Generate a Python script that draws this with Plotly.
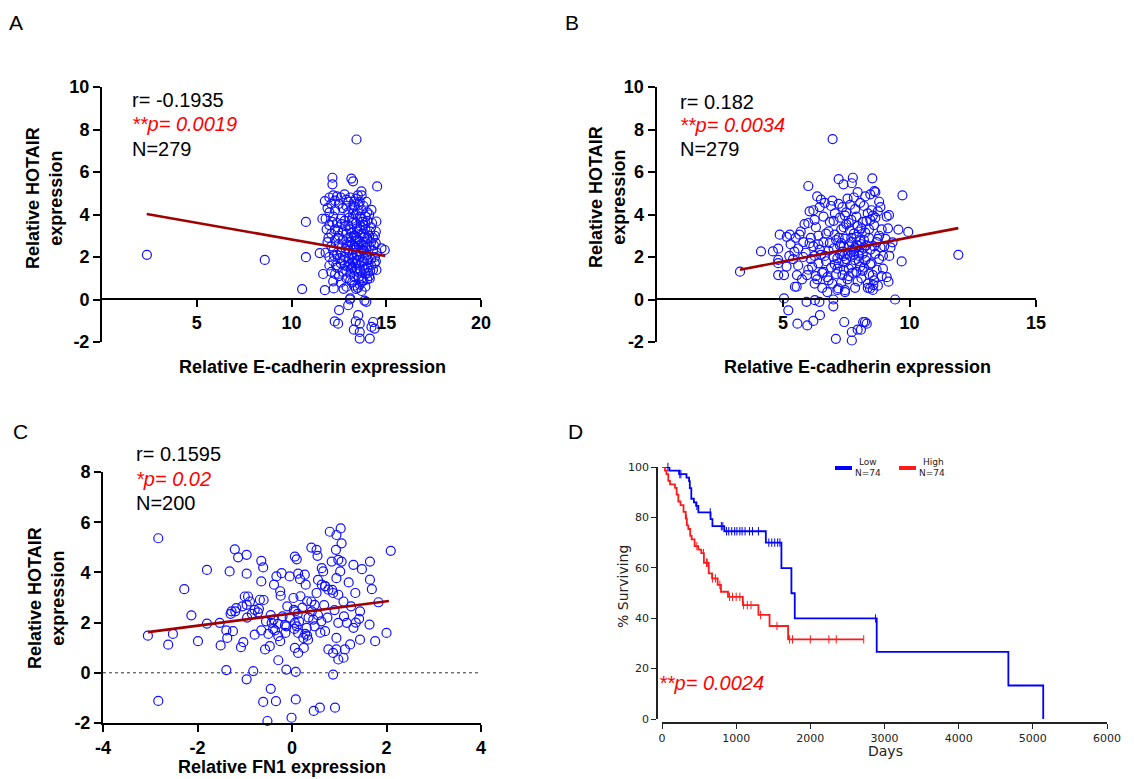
import plotly.graph_objects as go

W, H = 1134, 779

# ---------------- Panel A data (E-cadherin vs HOTAIR) ----------------
a_points = [
    (2.37, 2.10), (8.59, 1.86), (10.56, 0.49), (10.76, 3.65), (10.76, 1.99), (11.49, 2.18),
    (11.76, 0.44), (11.67, 1.20), (11.63, 3.80), (11.76, 4.63), (12.16, 5.73), (12.16, 5.42),
    (12.23, 0.52), (12.28, -1.03), (12.46, -1.14), (12.51, -0.50), (12.99, -0.27), (13.08, 0.0),
    (13.16, 5.69), (13.25, 5.56), (13.43, 7.53), (13.29, -1.42), (13.39, -1.03), (13.52, -0.74),
    (13.60, -1.14), (13.60, -1.53), (13.60, -1.84), (13.69, 5.09), (13.95, -0.11), (14.13, -1.84),
    (14.22, -1.29), (14.31, -1.06), (14.39, -1.37), (14.52, 5.32), (14.48, 3.67), (14.22, 4.22),
    (14.45, 3.20), (14.45, 2.65), (14.92, 2.33), (14.75, 2.41), (14.48, 1.39), (14.39, 1.70),
    (14.13, 0.99), (13.85, -0.05), (13.1, 0.05),
    (12.0, 4.8), (12.2, 4.9), (12.4, 4.85), (12.6, 4.8), (12.9, 4.7), (13.1, 4.8), (13.3, 4.6),
    (13.5, 4.9), (13.6, 4.6), (13.8, 4.4), (11.9, 4.3), (12.1, 4.5), (12.3, 4.2), (12.5, 4.5),
    (12.7, 4.3), (12.9, 4.4), (13.0, 4.1), (13.2, 4.3), (13.4, 4.0), (13.7, 4.2), (11.8, 3.8),
    (12.0, 3.5), (12.2, 3.9), (12.4, 3.6), (12.6, 3.8), (12.8, 3.7), (13.0, 3.5), (13.2, 3.8),
    (13.4, 3.6), (13.6, 3.9), (13.8, 3.5), (14.0, 3.7), (14.2, 3.4), (12.1, 3.1), (12.3, 3.3),
    (12.5, 3.0), (12.7, 3.2), (12.9, 3.1), (13.1, 3.3), (13.3, 3.0), (13.5, 3.2), (13.7, 3.1),
    (13.9, 3.3), (14.1, 3.0), (14.3, 2.9), (11.9, 2.7), (12.1, 2.5), (12.3, 2.8), (12.5, 2.6),
    (12.7, 2.8), (12.9, 2.6), (13.1, 2.7), (13.3, 2.5), (13.5, 2.8), (13.7, 2.6), (13.9, 2.7),
    (14.1, 2.5), (14.3, 2.3), (11.8, 2.2), (12.0, 2.0), (12.2, 2.3), (12.4, 2.1), (12.6, 2.2),
    (12.8, 2.0), (13.0, 2.3), (13.2, 2.1), (13.4, 2.2), (13.6, 2.0), (13.8, 2.3), (14.0, 2.1),
    (14.2, 1.9), (14.4, 2.0), (12.0, 1.6), (12.2, 1.8), (12.4, 1.5), (12.6, 1.7), (12.8, 1.6),
    (13.0, 1.8), (13.2, 1.5), (13.4, 1.7), (13.6, 1.6), (13.8, 1.8), (14.0, 1.5), (14.2, 1.6),
    (12.3, 1.2), (12.5, 1.1), (12.7, 1.3), (12.9, 1.0), (13.1, 1.2), (13.3, 1.1), (13.5, 1.3),
    (13.7, 1.0), (13.9, 1.2), (14.1, 1.1), (12.6, 0.8), (12.9, 0.6), (13.2, 0.8), (13.4, 0.5),
    (13.6, 0.7), (13.8, 0.9), (13.0, 4.6), (13.3, 4.4), (13.5, 4.2), (13.7, 3.8), (13.9, 3.9),
    (14.0, 4.1), (13.2, 3.6), (13.45, 3.35), (13.65, 3.45), (13.85, 2.95), (13.15, 2.95),
    (13.35, 2.75), (13.55, 2.55), (13.75, 2.35), (13.95, 2.45), (13.25, 2.35), (13.45, 2.05),
    (13.65, 2.25), (13.85, 1.95), (14.05, 1.85), (13.05, 1.95), (13.25, 1.75), (13.45, 1.45),
    (13.65, 1.35), (13.85, 1.45), (14.05, 1.25), (13.15, 1.45), (13.35, 1.35), (13.55, 1.05),
    (13.75, 0.85), (13.6, 3.3), (13.8, 3.1), (14.0, 2.9), (13.4, 2.9), (13.2, 2.6), (13.0, 2.9),
    (12.85, 2.4), (12.65, 2.45), (12.45, 2.9), (12.25, 2.05), (14.2, 2.7), (14.35, 2.55),
    (14.45, 1.8), (14.3, 1.4), (14.15, 1.35), (14.5, 2.2), (14.4, 3.0), (14.25, 3.6), (14.1, 4.0),
    (13.95, 4.6), (13.7, 4.9), (13.4, 4.75), (12.8, 4.95), (12.3, 4.65), (12.0, 4.1), (11.85, 3.3),
    (11.95, 2.9), (12.1, 1.3), (12.35, 1.6), (12.55, 1.95), (12.75, 1.85), (12.95, 1.55),
    (13.1, 0.9), (13.3, 0.65), (13.5, 0.55), (13.7, 0.4), (13.9, 0.6), (14.0, 0.95), (12.2, 0.85),
    (12.75, 0.5), (13.55, 4.45), (13.25, 4.05), (13.05, 3.85), (12.85, 3.45), (12.65, 3.55),
    (12.45, 3.25), (12.15, 3.65), (13.75, 3.65), (13.9, 3.6), (14.15, 3.2), (13.3, 1.95),
    (13.5, 1.85), (13.7, 1.75), (13.1, 1.65), (12.9, 1.35), (13.4, 2.45), (13.6, 2.75),
    (13.8, 2.55), (13.0, 2.55), (13.2, 3.15),
]
a_fit_x = [2.36, 14.95]
a_fit_y = [4.02, 2.05]

# ---------------- Panel B data ----------------
b_points = [
    (3.30, 1.31), (4.13, 2.26), (4.60, 2.26), (4.81, 2.39), (4.81, 1.86), (4.81, 1.71),
    (4.81, 1.15), (5.04, 1.15), (5.14, 1.55), (5.04, 0.05), (5.21, -0.51), (5.47, 0.60),
    (5.57, -1.14), (5.93, -0.11), (5.96, -1.22), (6.20, -1.01), (6.26, -0.03), (6.46, -0.74),
    (6.44, -0.11), (6.99, 0.0), (6.99, -0.32), (7.09, -1.85), (7.42, -1.06), (6.96, 7.55),
    (7.20, 5.66), (7.39, 5.42), (7.76, 5.73), (7.72, 5.47), (8.53, 5.70), (8.61, 5.10),
    (6.00, 5.34), (4.87, 3.05), (5.27, 3.05), (7.72, -1.93), (7.72, -1.53), (7.95, -1.42),
    (8.08, -1.42), (8.17, -1.06), (8.31, -1.14), (8.24, -1.06), (9.43, 0.0), (9.17, 0.84),
    (9.72, 4.90), (9.19, 3.97), (9.56, 3.29), (9.95, 3.18), (9.69, 1.79), (11.93, 2.10),
    (9.33, 2.69), (7.19, 0.52), (7.45, 0.44), (8.44, 0.52), (8.57, 0.68), (5.54, 0.60),
    (5.3, 2.6), (5.5, 2.9), (5.6, 2.4), (5.7, 3.2), (5.8, 2.7), (5.9, 2.2), (6.0, 3.6), (6.1, 2.9),
    (6.2, 4.2), (6.3, 3.4), (6.4, 2.6), (6.5, 4.7), (6.6, 3.9), (6.7, 3.1), (6.8, 2.3), (6.9, 4.4),
    (7.0, 3.7), (7.1, 2.8), (7.2, 4.5), (7.3, 3.3), (7.4, 2.5), (7.5, 4.1), (7.6, 3.6), (7.7, 2.9),
    (7.8, 4.8), (7.9, 3.9), (8.0, 3.2), (8.1, 2.6), (8.2, 4.4), (8.3, 3.7), (8.4, 2.9), (8.5, 4.2),
    (8.6, 3.5), (8.7, 2.7), (8.8, 4.6), (8.9, 3.3), (9.0, 2.5), (9.1, 3.9), (5.4, 1.9), (5.6, 1.6),
    (5.8, 2.0), (6.0, 1.4), (6.1, 1.9), (6.3, 1.1), (6.4, 1.7), (6.5, 2.1), (6.6, 1.3), (6.7, 1.8),
    (6.8, 0.9), (6.9, 1.5), (7.0, 2.0), (7.1, 1.2), (7.2, 1.7), (7.3, 0.8), (7.4, 1.4), (7.5, 1.9),
    (7.6, 1.1), (7.7, 1.6), (7.8, 2.1), (7.9, 1.3), (8.0, 1.8), (8.1, 1.0), (8.2, 1.5), (8.3, 2.0),
    (8.4, 1.2), (8.5, 1.7), (8.6, 0.9), (8.7, 1.4), (8.8, 1.9), (8.9, 1.1), (6.2, 2.5), (6.4, 3.0),
    (6.6, 2.7), (6.8, 3.2), (7.0, 2.4), (7.2, 2.9), (7.4, 3.4), (7.6, 2.6), (7.8, 3.1), (8.0, 2.3),
    (8.2, 2.8), (8.4, 3.3), (8.6, 2.5), (8.8, 3.0), (7.05, 3.05), (7.25, 2.55), (7.45, 2.85),
    (7.65, 3.25), (7.85, 2.45), (8.05, 2.75), (8.25, 3.15), (8.45, 2.35), (7.55, 2.15), (7.75, 2.35),
    (7.95, 2.55), (8.15, 2.15), (7.35, 2.25), (7.15, 1.95), (7.95, 3.45), (8.15, 3.65), (8.35, 4.05),
    (8.55, 3.95), (8.75, 4.15), (8.65, 3.85), (8.45, 3.75), (7.85, 4.25), (7.65, 4.45), (7.45, 3.95),
    (7.25, 3.85), (7.05, 4.05), (6.85, 3.65), (6.65, 4.55), (6.45, 4.35), (6.25, 3.75), (6.05, 4.15),
    (5.85, 3.55), (5.65, 3.05), (5.45, 2.25), (5.25, 2.05), (5.15, 2.95), (6.35, 4.85), (6.95, 4.65),
    (7.35, 4.35), (7.55, 4.75), (8.05, 4.55), (8.25, 4.85), (8.85, 4.35), (8.65, 5.05), (8.45, 4.95),
    (7.95, 5.05), (6.15, 1.55), (6.35, 0.95), (6.55, 1.25), (6.75, 1.05), (6.95, 0.75), (7.15, 1.45),
    (7.35, 1.15), (7.55, 0.95), (7.75, 1.25), (7.95, 0.85), (8.15, 1.35), (8.35, 0.75), (8.55, 1.15),
    (8.75, 0.65), (8.95, 1.45), (9.1, 1.05), (9.2, 2.05), (9.05, 2.85), (9.15, 3.35), (9.25, 2.45),
    (5.75, 0.95), (5.95, 1.15), (5.55, 1.15), (6.05, 2.65), (6.25, 2.05), (6.45, 2.35), (6.65, 2.05),
    (6.85, 2.65), (7.05, 1.65), (7.25, 2.15), (7.45, 1.75), (7.65, 2.05), (7.85, 1.85), (8.05, 1.55),
    (8.25, 1.85), (8.45, 1.65), (8.65, 2.15), (8.85, 2.45), (8.95, 2.05), (8.75, 2.85), (6.55, 0.55),
    (6.75, 0.35), (7.15, 0.45), (7.45, 0.35), (7.85, 0.55), (8.35, 0.55), (8.55, 0.45), (6.25, 0.75),
    (7.7, 3.75), (7.5, 3.55), (7.3, 2.65), (7.9, 2.95), (8.1, 3.35), (8.3, 2.55), (7.8, 2.25),
    (7.6, 1.45), (8.0, 2.05), (8.2, 2.45), (7.4, 2.05), (7.7, 2.7),
]
b_fit_x = [3.30, 11.93]
b_fit_y = [1.40, 3.36]

# ---------------- Panel C data (FN1 vs HOTAIR) ----------------
c_points = [
    (-2.83, 5.36), (-3.05, 1.48), (-2.83, -1.12), (-2.62, 1.12), (-2.52, 1.55), (-2.28, 3.33),
    (-2.13, 2.29), (-1.99, 1.26), (-1.80, 4.10), (-1.80, 1.96), (-1.53, 1.99), (-1.51, 1.09),
    (-1.39, 1.69), (-1.37, 1.39), (-1.39, 0.11), (-1.32, 4.04), (-1.25, 1.66), (-1.21, 4.92),
    (-1.14, 4.60), (-1.28, 2.45), (-1.18, 2.58), (-0.96, 4.70), (-0.96, 3.95), (-1.00, 3.04),
    (-0.93, 3.04), (-0.89, 2.84), (-0.96, 2.71), (-0.79, 2.51), (-1.03, 1.22), (-1.08, 1.02),
    (-0.96, -0.26), (-0.82, 0.07), (-0.79, 1.52), (-0.65, 4.46), (-0.61, 4.20), (-0.65, 3.64),
    (-0.68, 2.91), (-0.72, 2.41), (-0.65, 1.69), (-0.57, 0.93), (-0.47, 1.06), (-0.61, -1.16),
    (-0.45, -0.64), (-0.52, -1.92), (-0.34, -1.13), (-0.29, 0.50), (-0.39, 2.12), (-0.43, 1.99),
    (-0.36, 1.69), (-0.38, 3.51), (-0.33, 3.84), (-0.22, 3.97), (-0.24, 3.07), (-0.29, 1.46),
    (-0.25, 1.26), (-0.14, 1.59), (-0.12, 1.85), (-0.12, 0.13), (-0.05, 3.84), (-0.01, -1.79),
    (0.03, 2.98), (0.04, 2.51), (0.07, 2.45), (0.06, 4.63), (0.10, 4.52), (0.13, 3.95),
    (0.17, 3.73), (0.06, 1.99), (0.10, 1.85), (0.13, 1.59), (0.06, 0.99), (0.13, 0.79),
    (0.08, 0.04), (0.08, -1.06), (0.27, 3.91), (0.29, 3.51), (0.24, 1.39), (0.25, 0.99),
    (0.31, 1.79), (0.32, 1.48), (0.34, 1.32), (0.41, 4.99), (0.52, 4.90), (0.54, 4.66),
    (0.41, 2.84), (0.48, 2.71), (0.52, 3.18), (0.45, 2.12), (0.46, -1.52), (0.59, -1.39),
    (0.63, 4.17), (0.66, 4.04), (0.63, 3.51), (0.70, 3.44), (0.70, 1.66), (0.77, 3.31),
    (0.80, 5.62), (0.94, 5.49), (1.03, 5.75), (1.05, 5.16), (0.93, 4.90), (0.84, 4.43),
    (0.98, 4.50), (1.05, 4.43), (1.02, 4.04), (0.94, 3.77), (0.87, 3.18), (0.98, 3.11),
    (1.09, 2.84), (0.98, 1.99), (1.16, 1.99), (1.30, 1.79), (0.94, 1.39), (0.77, 0.93),
    (0.87, 0.79), (0.94, 0.93), (0.98, 0.53), (1.09, 0.60), (1.12, 0.93), (1.23, 1.13),
    (0.87, -0.07), (0.91, -1.39), (1.30, 4.30), (1.34, 3.18), (1.44, 2.45), (1.42, 2.15),
    (1.44, 1.32), (1.48, 4.13), (1.64, 1.92), (1.65, 4.43), (1.65, 3.71), (1.69, 3.33),
    (1.76, 1.26), (1.83, 2.81), (2.00, 1.59), (2.09, 4.86),
    (-0.05, 2.2), (0.12, 2.35), (0.22, 2.6), (0.35, 2.2), (0.42, 2.45), (0.55, 2.3), (0.62, 2.05),
    (0.15, 2.05), (-0.2, 2.25), (-0.3, 1.95), (0.05, 1.75), (0.28, 1.55), (0.48, 1.85), (0.6, 1.6),
    (-0.15, 1.9), (0.32, 2.85), (0.18, 3.05), (-0.1, 2.65), (0.68, 2.7), (0.75, 2.2),
    (-1.2, 2.45), (-1.05, 2.65), (-0.85, 2.35), (-0.7, 2.55), (-1.3, 2.35), (-0.55, 2.05),
    (-0.45, 2.3), (-0.4, 1.75), (-0.5, 1.55), (-0.95, 2.2), (1.25, 2.65), (1.1, 2.25), (0.9, 2.5),
    (1.35, 2.0), (0.85, 3.3), (0.7, 3.45), (1.2, 3.6), (0.55, 3.7), (-0.6, 2.9), (-0.25, 3.25),
]
c_fit_x = [-3.05, 2.05]
c_fit_y = [1.62, 2.86]

# ---------------- Panel D data (Kaplan-Meier) ----------------
low_days = [0, 100, 230, 330, 365, 375, 395, 430, 460, 490, 655, 680, 840, 1400, 1610, 1745,
            1790, 2895, 4670, 5140]
low_surv = [100, 98.6, 97.2, 95.8, 94.4, 91.6, 87.4, 86.0, 84.6, 82.0, 79.3, 76.5, 74.5, 70.0,
            59.9, 49.9, 39.9, 26.6, 13.3, 0]
high_days = [0, 40, 60, 85, 108, 175, 198, 220, 250, 290, 320, 335, 355, 380, 400, 440, 490,
             530, 565, 630, 675, 750, 795, 890, 1090, 1300, 1450, 1700, 2720]
high_surv = [100, 98.6, 97.2, 94.5, 93.1, 91.7, 89.0, 86.3, 84.9, 82.2, 79.5, 76.8, 75.4, 72.7,
             71.3, 68.6, 67.2, 65.8, 62.0, 57.8, 55.8, 53.2, 50.5, 48.5, 45.2, 41.3, 36.9, 31.6,
             31.6]
low_cens_days = [80, 240, 255, 470, 650, 800, 820, 870, 900, 940, 980, 1010, 1050, 1080, 1120,
                 1180, 1220, 1300, 1440, 1480, 1520, 1560, 1590, 2880]
low_cens_surv = [100, 97.2, 97.2, 84.6, 82.0, 76.5, 76.5, 74.5, 74.5, 74.5, 74.5, 74.5, 74.5,
                 74.5, 74.5, 74.5, 74.5, 74.5, 70.0, 70.0, 70.0, 70.0, 70.0, 39.9]
high_cens_days = [330, 470, 560, 600, 610, 680, 720, 780, 910, 950, 1000, 1050, 1100, 1150,
                  1200, 1330, 1550, 1720, 1760, 2000, 2250, 2350, 2720]
high_cens_surv = [79.5, 68.6, 65.8, 62.0, 62.0, 55.8, 55.8, 53.2, 48.5, 48.5, 48.5, 48.5, 45.2,
                  45.2, 45.2, 41.3, 36.9, 31.6, 31.6, 31.6, 31.6, 31.6, 31.6]

# tick values / labels
ab_y_ticks = [-2, 0, 2, 4, 6, 8, 10]
ab_y_labels = ["-2", "0", "2", "4", "6", "8", "10"]
a_x_ticks = [5, 10, 15, 20]
b_x_ticks = [5, 10, 15]
c_x_ticks = [-4, -2, 0, 2, 4]
c_x_labels = ["-4", "-2", "0", "2", "4"]
c_y_ticks = [-2, 0, 2, 4, 6, 8]
c_y_labels = ["-2", "0", "2", "4", "6", "8"]
d_x_ticks = [0, 1000, 2000, 3000, 4000, 5000, 6000]
d_y_ticks = [0, 20, 40, 60, 80, 100]


def px(x):
    return x / W


def py(y):
    return 1 - y / H


ARIAL = "Liberation Sans, Arial, sans-serif"
DEJAVU = "DejaVu Sans, sans-serif"
BLUE = "#1010ff"
FITRED = "#a00000"

fig = go.Figure()


def scatter_panel(points, fx, fy, xa, ya):
    xs = [p[0] for p in points]
    ys = [p[1] for p in points]
    fig.add_trace(go.Scatter(
        x=xs, y=ys, mode="markers", xaxis=xa, yaxis=ya, cliponaxis=False,
        marker=dict(symbol="circle-open", size=9, color=BLUE, line=dict(width=1.2, color=BLUE)),
        showlegend=False, hoverinfo="skip"))
    fig.add_trace(go.Scatter(
        x=fx, y=fy, mode="lines", xaxis=xa, yaxis=ya, cliponaxis=False,
        line=dict(color=FITRED, width=2.6), showlegend=False, hoverinfo="skip"))


scatter_panel(a_points, a_fit_x, a_fit_y, "x", "y")
scatter_panel(b_points, b_fit_x, b_fit_y, "x2", "y2")
# dotted zero line in C
fig.add_trace(go.Scatter(x=[-4, 4], y=[0, 0], mode="lines", xaxis="x3", yaxis="y3",
                         line=dict(color="#333", width=1, dash="dot"), showlegend=False,
                         hoverinfo="skip"))
scatter_panel(c_points, c_fit_x, c_fit_y, "x3", "y3")

# KM curves
fig.add_trace(go.Scatter(x=low_days, y=low_surv, mode="lines", line_shape="hv", xaxis="x4",
                         yaxis="y4", line=dict(color="#0000ff", width=1.8), showlegend=False,
                         cliponaxis=False))
fig.add_trace(go.Scatter(x=high_days, y=high_surv, mode="lines", line_shape="hv", xaxis="x4",
                         yaxis="y4", line=dict(color="#ff1a1a", width=1.8), showlegend=False,
                         cliponaxis=False))
fig.add_trace(go.Scatter(x=low_cens_days, y=low_cens_surv, mode="markers", xaxis="x4",
                         yaxis="y4", marker=dict(symbol="line-ns", size=6,
                                                 line=dict(color="#0000ff", width=1)),
                         showlegend=False, cliponaxis=False))
fig.add_trace(go.Scatter(x=high_cens_days, y=high_cens_surv, mode="markers", xaxis="x4",
                         yaxis="y4", marker=dict(symbol="line-ns", size=6,
                                                 line=dict(color="#ff1a1a", width=1)),
                         showlegend=False, cliponaxis=False))

bold_tick = dict(family=ARIAL, size=18, color="black", weight=700)
common = dict(showline=True, linecolor="black", linewidth=2, ticks="outside", ticklen=7,
              tickwidth=2, tickcolor="black", showgrid=False, zeroline=False,
              tickfont=bold_tick, automargin=False)
km_common = dict(showline=True, linecolor="#222", linewidth=1.5, ticks="outside", ticklen=5,
                 tickwidth=1.2, tickcolor="#222", showgrid=False, zeroline=False,
                 tickfont=dict(family=DEJAVU, size=11, color="#222"), automargin=False)

fig.update_layout(
    template="none",
    width=W, height=H, margin=dict(l=0, r=0, t=0, b=0, pad=0, autoexpand=False),
    paper_bgcolor="white", plot_bgcolor="white", showlegend=False,
    xaxis=dict(domain=[px(102), px(481)], range=[0, 20], tickvals=a_x_ticks,
               anchor="free", position=py(299), **common),
    yaxis=dict(domain=[py(342), py(87)], range=[-2, 10], tickvals=ab_y_ticks,
               ticktext=ab_y_labels, anchor="x", **common),
    xaxis2=dict(domain=[px(656.5), px(1036)], range=[0, 15], tickvals=b_x_ticks,
                anchor="free", position=py(299), **common),
    yaxis2=dict(domain=[py(342), py(87)], range=[-2, 10], tickvals=ab_y_ticks,
                ticktext=ab_y_labels, anchor="x2", **common),
    xaxis3=dict(domain=[px(103), px(481)], range=[-4, 4], tickvals=c_x_ticks,
                ticktext=c_x_labels, anchor="y3", **common),
    yaxis3=dict(domain=[py(723), py(472)], range=[-2, 8], tickvals=c_y_ticks,
                ticktext=c_y_labels, anchor="x3", **common),
    xaxis4=dict(domain=[px(662), px(1107)], range=[0, 6000], tickvals=d_x_ticks,
                anchor="free", position=py(723), **km_common),
    yaxis4=dict(domain=[py(719), py(467)], range=[0, 100], tickvals=d_y_ticks,
                anchor="free", position=px(657), **km_common),
)

ann = []


def text(x, y, s, size=20, color="black", family=ARIAL, xanchor="left", angle=0, weight=None):
    f = dict(family=family, size=size, color=color)
    if weight:
        f["weight"] = weight
    ann.append(dict(x=px(x), y=py(y), xref="paper", yref="paper", text=s, showarrow=False,
                    xanchor=xanchor, yanchor="middle", font=f, textangle=angle))


# panel letters
text(16, 22, "A", size=21, xanchor="center")
text(572, 22, "B", size=21, xanchor="center")
text(20, 431, "C", size=21, xanchor="center")
text(575, 431, "D", size=21, xanchor="center")

# stats text
text(130, 100, "r= -0.1935")
text(130, 124, "<i>**p= 0.0019</i>", color="#ff0000")
text(130, 149, "N=279")
text(678, 102, "r= 0.182")
text(678, 125, "<i>**p= 0.0034</i>", color="#ff0000")
text(678, 149, "N=279")
text(134, 454, "r= 0.1595")
text(134, 479, "<i>*p= 0.02</i>", color="#ff0000")
text(134, 503, "N=200")
text(657, 683, "<i>**p= 0.0024</i>", color="#ff0000")

# axis titles
text(312, 367, "Relative E-cadherin expression", size=18, xanchor="center", weight=700)
text(857, 367, "Relative E-cadherin expression", size=18, xanchor="center", weight=700)
text(282, 767, "Relative FN1 expression", size=18, xanchor="center", weight=700)
text(45, 198, "Relative HOTAIR<br>expression", size=18, xanchor="center", angle=-90, weight=700)
text(608, 197, "Relative HOTAIR<br>expression", size=18, xanchor="center", angle=-90, weight=700)
text(46, 598, "Relative HOTAIR<br>expression", size=18, xanchor="center", angle=-90, weight=700)
text(885, 751, "Days", size=14, xanchor="center", family=DEJAVU, color="#222")
text(623, 587, "% Surviving", size=14, xanchor="center", family=DEJAVU, color="#222", angle=-90)

# KM legend
text(868, 462, "Low", size=9, xanchor="center", family=DEJAVU, color="#222")
text(868, 473, "N=74", size=9, xanchor="center", family=DEJAVU, color="#222")
text(933, 462, "High", size=9, xanchor="center", family=DEJAVU, color="#222")
text(932, 473, "N=74", size=9, xanchor="center", family=DEJAVU, color="#222")

fig.update_layout(annotations=ann, shapes=[
    dict(type="line", xref="paper", yref="paper", x0=px(835), x1=px(852), y0=py(468), y1=py(468),
         line=dict(color="#0000ff", width=4)),
    dict(type="line", xref="paper", yref="paper", x0=px(899), x1=px(916), y0=py(468), y1=py(468),
         line=dict(color="#ff1a1a", width=4)),
])

fig.write_html("out.html", config={"displayModeBar": False},
               post_script="document.body.style.margin='0';document.body.style.overflow='hidden';")
